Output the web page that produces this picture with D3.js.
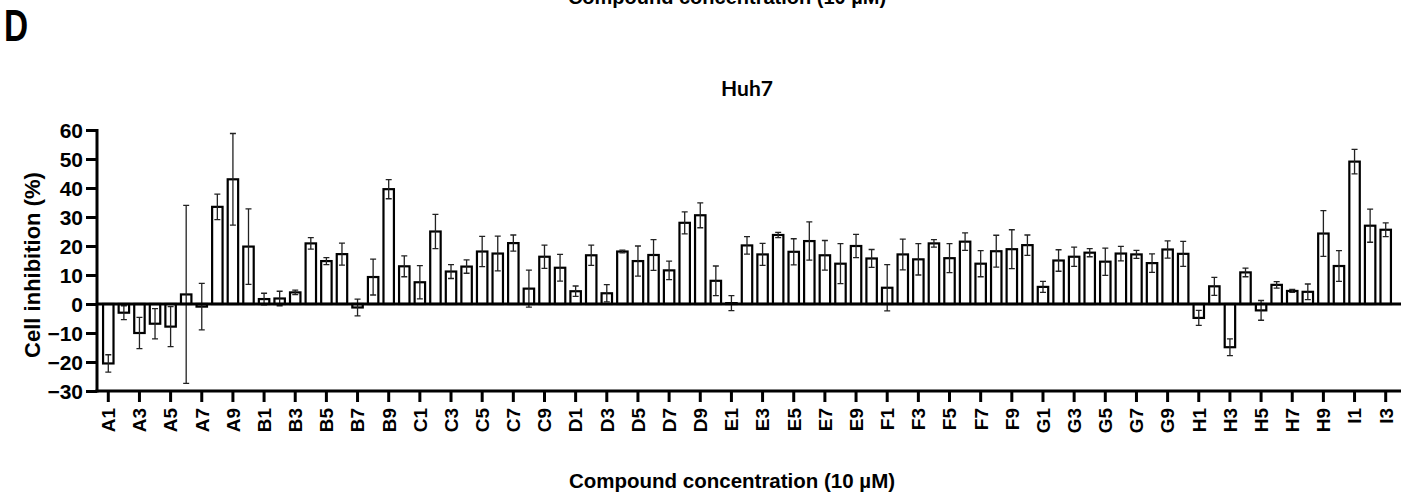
<!DOCTYPE html>
<html>
<head>
<meta charset="utf-8">
<title>Huh7 cell inhibition</title>
<script src="https://cdn.jsdelivr.net/npm/d3@7"></script>
<style>
  body { margin: 0; background: #fff; }
  svg { display: block; }
  text { font-family: "Liberation Sans", Arial, sans-serif; font-weight: bold; fill: #000; }
</style>
</head>
<body>
<div id="chart"></div>
<script>
  var categories = [
    "A1","A2","A3","A4","A5","A6","A7","A8","A9","A10",
    "B1","B2","B3","B4","B5","B6","B7","B8","B9","B10",
    "C1","C2","C3","C4","C5","C6","C7","C8","C9","C10",
    "D1","D2","D3","D4","D5","D6","D7","D8","D9","D10",
    "E1","E2","E3","E4","E5","E6","E7","E8","E9","E10",
    "F1","F2","F3","F4","F5","F6","F7","F8","F9","F10",
    "G1","G2","G3","G4","G5","G6","G7","G8","G9","G10",
    "H1","H2","H3","H4","H5","H6","H7","H8","H9","H10",
    "I1","I2","I3"
  ];
  // mean inhibition (%)
  var means = [
    -20.5, -3.0, -10.0, -6.8, -7.8, 3.3, -0.9, 33.5, 43.0, 19.8,
    1.7, 1.9, 4.0, 20.9, 14.8, 17.2, -1.2, 9.3, 39.6, 13.0,
    7.5, 25.0, 11.2, 12.9, 18.1, 17.4, 21.0, 5.3, 16.3, 12.5,
    4.4, 16.8, 3.7, 18.1, 14.8, 16.9, 11.6, 28.0, 30.6, 8.0,
    0.3, 20.2, 17.1, 23.8, 18.0, 21.7, 16.8, 13.9, 20.0, 15.7,
    5.6, 17.1, 15.4, 20.9, 15.8, 21.5, 13.9, 18.2, 18.9, 20.3,
    5.9, 15.0, 16.3, 17.7, 14.6, 17.4, 17.1, 14.1, 18.8, 17.3,
    -4.8, 6.1, -14.9, 10.9, -2.2, 6.6, 4.5, 4.2, 24.3, 13.1,
    49.1, 27.0, 25.6
  ];
  // SD
  var errors = [
    3.0, 2.4, 5.4, 5.2, 6.9, 30.7, 8.0, 4.4, 15.8, 13.0,
    2.0, 2.5, 0.8, 2.0, 1.2, 3.8, 2.9, 6.2, 3.3, 3.6,
    5.7, 5.9, 2.4, 2.3, 5.2, 6.0, 2.8, 6.4, 4.0, 4.6,
    1.8, 3.5, 3.0, 0.5, 5.2, 5.3, 3.2, 3.8, 4.3, 5.1,
    2.6, 3.0, 3.8, 0.9, 4.5, 6.6, 5.1, 6.9, 4.0, 3.1,
    8.0, 5.3, 5.4, 1.3, 5.0, 3.0, 4.5, 5.5, 6.7, 3.5,
    1.9, 3.7, 3.3, 1.4, 4.7, 2.5, 1.4, 3.2, 3.0, 4.3,
    2.6, 3.1, 2.9, 1.5, 3.4, 1.1, 0.5, 2.7, 7.9, 5.3,
    4.2, 5.7, 2.4
  ];
  var tickLabels = [
    "A1","A3","A5","A7","A9","B1","B3","B5","B7","B9",
    "C1","C3","C5","C7","C9","D1","D3","D5","D7","D9",
    "E1","E3","E5","E7","E9","F1","F3","F5","F7","F9",
    "G1","G3","G5","G7","G9","H1","H3","H5","H7","H9",
    "I1","I3"
  ];
  var yTicks = [-30, -20, -10, 0, 10, 20, 30, 40, 50, 60];

  var W = 1412, H = 495;
  var plotLeft = 97, plotRight = 1397, plotTop = 130, plotBottom = 391;

  var svg = d3.select("#chart").append("svg")
    .attr("width", W)
    .attr("height", H);

  var x = d3.scaleBand().domain(categories).range([plotLeft, plotRight])
    .paddingInner(0.33).paddingOuter(0.39);
  var y = d3.scaleLinear().domain([-30, 60]).range([plotBottom, plotTop]);

  var data = categories.map(function(c, i){ return {cat: c, v: means[i], e: errors[i]}; });

  // bars
  svg.append("g").selectAll("rect").data(data).enter().append("rect")
    .attr("x", function(d){ return x(d.cat); })
    .attr("width", x.bandwidth())
    .attr("y", function(d){ return y(Math.max(0, d.v)); })
    .attr("height", function(d){ return Math.abs(y(d.v) - y(0)); })
    .attr("fill", "#fff")
    .attr("stroke", "#000")
    .attr("stroke-width", 2.2);

  // error bars (mean +/- SD)
  var cap = 3;
  var eb = svg.append("g").attr("stroke", "#222").attr("stroke-width", 1.3).attr("fill", "none");
  eb.selectAll("path").data(data).enter().append("path")
    .attr("d", function(d){
      var cx = x(d.cat) + x.bandwidth() / 2;
      var y1 = y(d.v + d.e), y2 = y(d.v - d.e);
      return "M" + cx + "," + y1 + "V" + y2 +
             "M" + (cx - cap) + "," + y1 + "H" + (cx + cap) +
             "M" + (cx - cap) + "," + y2 + "H" + (cx + cap);
    });

  // zero baseline
  svg.append("line")
    .attr("x1", plotLeft).attr("x2", plotRight + 4)
    .attr("y1", y(0)).attr("y2", y(0))
    .attr("stroke", "#000").attr("stroke-width", 3);

  // y axis
  var yAxis = svg.append("g")
    .attr("transform", "translate(" + plotLeft + ",0)")
    .call(d3.axisLeft(y).tickValues(yTicks).tickSize(11).tickPadding(3).tickSizeOuter(0));
  yAxis.select(".domain").attr("stroke-width", 3).attr("d", "M0," + (plotTop - 1) + "V" + (plotBottom + 1.5));
  yAxis.selectAll(".tick line").attr("stroke-width", 3);
  yAxis.selectAll(".tick text").style("font-size", "21px").attr("dy", "0.36em");

  // x axis
  var xAxis = svg.append("g")
    .attr("transform", "translate(0," + plotBottom + ")")
    .call(d3.axisBottom(x).tickValues(tickLabels).tickSize(11).tickSizeOuter(0));
  xAxis.select(".domain").attr("stroke-width", 3).attr("d", "M" + (plotLeft - 1.5) + ",0H" + (plotRight + 4));
  xAxis.selectAll(".tick line").attr("stroke-width", 3);
  xAxis.selectAll(".tick text")
    .style("font-size", "19px")
    .attr("text-anchor", "end")
    .attr("transform", "rotate(-90)")
    .attr("x", -17)
    .attr("y", 0)
    .attr("dy", "0.36em");

  // titles
  svg.append("text")
    .attr("x", 747).attr("y", 96)
    .attr("text-anchor", "middle")
    .style("font-family", "Lato, 'Open Sans', sans-serif")
    .style("font-size", "21px")
    .text("Huh7");

  svg.append("text")
    .attr("x", 732).attr("y", 488)
    .attr("text-anchor", "middle")
    .style("font-size", "20.5px")
    .text("Compound concentration (10 µM)");

  // title of the panel above, cut by the crop
  svg.append("text")
    .attr("x", 727).attr("y", 4)
    .attr("text-anchor", "middle")
    .style("font-size", "20px")
    .text("Compound concentration (10 µM)");

  svg.append("text")
    .attr("transform", "translate(40,265) rotate(-90)")
    .attr("text-anchor", "middle")
    .style("font-size", "22px")
    .text("Cell inhibition (%)");

  svg.append("text")
    .attr("transform", "translate(4,41) scale(0.76,1)")
    .style("font-size", "44px")
    .text("D");
</script>
</body>
</html>
